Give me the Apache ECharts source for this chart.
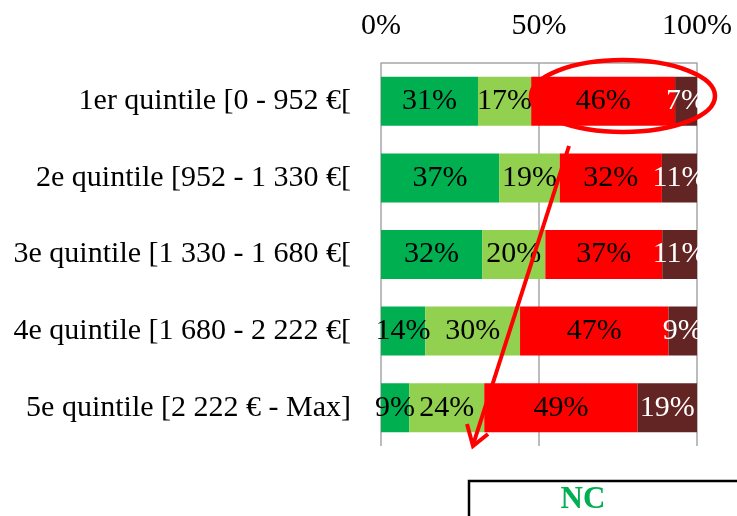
<!DOCTYPE html>
<html>
<head>
<meta charset="utf-8">
<script src="https://cdn.jsdelivr.net/npm/echarts@6/dist/echarts.min.js"></script>
<style>
html,body{margin:0;padding:0;background:#fff;}
#chart{width:737px;height:516px;}
</style>
</head>
<body>
<div id="chart"></div>
<script>
const categories = [
  "1er quintile [0 - 952 €[",
  "2e quintile [952 - 1 330 €[",
  "3e quintile [1 330 - 1 680 €[",
  "4e quintile [1 680 - 2 222 €[",
  "5e quintile [2 222 € - Max]"
];
const seriesNames = ["A", "B", "C", "D"];
const valuesA = [31, 37, 32, 14, 9];
const valuesB = [17, 19, 20, 30, 24];
const valuesC = [46, 32, 37, 47, 49];
const valuesD = [7, 11, 11, 9, 19];
const xTicks = [0, 50, 100];
const colors = ["#00B050", "#92D050", "#FF0000", "#632523"];
const labelColors = ["#000", "#000", "#000", "#fff"];

const FONT = "Liberation Serif";
const all = [valuesA, valuesB, valuesC, valuesD];
const sums = categories.map((c, i) => all.reduce((s, arr) => s + arr[i], 0));

const series = all.map((arr, k) => ({
  name: seriesNames[k],
  type: "bar",
  stack: "total",
  barWidth: "64%",
  itemStyle: { color: colors[k] },
  label: {
    show: true,
    position: "inside",
    fontFamily: FONT,
    fontSize: 30,
    color: labelColors[k],
    formatter: p => p.data.raw + "%"
  },
  data: arr.map((v, i) => ({ value: v / sums[i] * 100, raw: v }))
}));

const chart = echarts.init(document.getElementById("chart"));
chart.setOption({
  animation: false,
  grid: { left: 381, right: 40, top: 63, bottom: 70, containLabel: false },
  xAxis: {
    type: "value",
    position: "top",
    min: xTicks[0],
    max: xTicks[xTicks.length - 1],
    interval: xTicks[1] - xTicks[0],
    axisLine: { show: true, lineStyle: { color: "#A6A6A6", width: 1.5 } },
    axisTick: { show: false },
    axisLabel: {
      fontFamily: FONT, fontSize: 30, color: "#000", margin: 22,
      formatter: v => v + "%"
    },
    splitLine: { show: true, lineStyle: { color: "#A6A6A6", width: 1.5 } }
  },
  yAxis: {
    type: "category",
    inverse: true,
    data: categories,
    axisLine: { show: false },
    axisTick: { show: false },
    axisLabel: { fontFamily: FONT, fontSize: 30, color: "#000", margin: 30 }
  },
  series: series,
  graphic: [
    {
      type: "ellipse", z: 100,
      shape: { cx: 623, cy: 96, rx: 92, ry: 36 },
      style: { fill: null, stroke: "#FF0000", lineWidth: 4.5 }
    },
    {
      type: "line", z: 100,
      shape: { x1: 569, y1: 146, x2: 473, y2: 445 },
      style: { stroke: "#FF0000", lineWidth: 4 }
    },
    {
      type: "polyline", z: 100,
      shape: { points: [[467, 424], [473, 446], [488, 434]] },
      style: { fill: null, stroke: "#FF0000", lineWidth: 4, lineJoin: "miter" }
    },
    {
      type: "rect", z: 100,
      shape: { x: 469, y: 481, width: 300, height: 60 },
      style: { fill: "#fff", stroke: "#000", lineWidth: 2.5 }
    },
    {
      type: "text", z: 101,
      x: 583, y: 500,
      style: {
        text: "NC", fill: "#00B050", font: "bold 31px 'Liberation Serif'",
        align: "center", verticalAlign: "middle"
      }
    }
  ]
});
</script>
</body>
</html>
